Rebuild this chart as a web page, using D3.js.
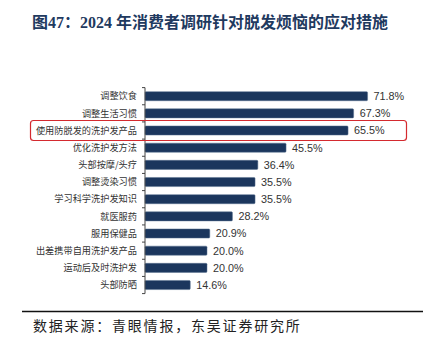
<!DOCTYPE html>
<html><head><meta charset="utf-8">
<script src="https://cdn.jsdelivr.net/npm/d3@7"></script>
<style>body{margin:0;background:#fff}svg{display:block}</style>
</head><body>
<script>
const categories = ["调整饮食","调整生活习惯","使用防脱发的洗护发产品","优化洗护发方法","头部按摩/头疗","调整烫染习惯","学习科学洗护发知识","就医服药","服用保健品","出差携带自用洗护发产品","运动后及时洗护发","头部防晒"];
const values = [71.8,67.3,65.5,45.5,36.4,35.5,35.5,28.2,20.9,20.0,20.0,14.6];
const highlighted = "使用防脱发的洗护发产品";
const titleText = "图47：2024 年消费者调研针对脱发烦恼的应对措施";
const sourceText = "数据来源：青眼情报，东吴证券研究所";

const W = 432, H = 344;
const svg = d3.select("body").append("svg").attr("width", W).attr("height", H);

svg.append("text").attr("x", 32).attr("y", 28)
  .attr("font-family", "'Liberation Serif','Noto Sans CJK SC',serif")
  .attr("font-weight", "bold").attr("font-size", 16).attr("fill", "#1f3a5f")
  .text(titleText);

const x = d3.scaleLinear().domain([0, 80]).range([145, 393]);
const y = d3.scaleBand().domain(categories).range([87.6, 293.6]).paddingInner(0.47).paddingOuter(0.235);

const g = svg.append("g");
g.selectAll("rect.bar").data(categories).join("rect").attr("class", "bar")
  .attr("x", x(0)).attr("y", d => y(d))
  .attr("width", (d, i) => x(values[i]) - x(0)).attr("height", y.bandwidth())
  .attr("rx", 1).attr("fill", "#1b365d").attr("stroke", "#5a7290").attr("stroke-width", 0.5);

g.selectAll("text.val").data(categories).join("text").attr("class", "val")
  .attr("x", (d, i) => x(values[i]) + 6).attr("y", d => y(d) + y.bandwidth() / 2)
  .attr("dy", "0.36em").attr("font-family", "Arial, 'Liberation Sans', sans-serif")
  .attr("font-size", 10.8).attr("fill", "#333")
  .text((d, i) => values[i].toFixed(1) + "%");

const ax = svg.append("g").attr("transform", `translate(${x(0)},0)`);
ax.append("line").attr("x1", 0).attr("x2", 0).attr("y1", 87.6).attr("y2", 293.6)
  .attr("stroke", "#444").attr("stroke-width", 1);
const step = y.step();
const bounds = d3.range(categories.length + 1).map(i => 87.6 + i * step);
ax.selectAll("line.tk").data(bounds).join("line").attr("class", "tk")
  .attr("x1", -3).attr("x2", 0).attr("y1", d => d).attr("y2", d => d)
  .attr("stroke", "#444").attr("stroke-width", 1);

svg.append("g").selectAll("text.cat").data(categories).join("text").attr("class", "cat")
  .attr("x", 137).attr("y", d => y(d) + y.bandwidth() / 2).attr("dy", "0.36em")
  .attr("text-anchor", "end").attr("font-family", "'Noto Sans CJK SC', sans-serif")
  .attr("font-size", 9.2).attr("fill", "#333").text(d => d);

const hy = y(highlighted) + y.bandwidth() / 2;
svg.append("rect").attr("x", 30.5).attr("y", hy - 10).attr("width", 376).attr("height", 20)
  .attr("rx", 3).attr("fill", "none").attr("stroke", "#d42a2f").attr("stroke-width", 1.2);

svg.append("line").attr("x1", 22).attr("x2", 423).attr("y1", 311.5).attr("y2", 311.5)
  .attr("stroke", "#111").attr("stroke-width", 1.5);
svg.append("text").attr("x", 33).attr("y", 331)
  .attr("font-family", "'Noto Sans CJK SC', serif").attr("font-size", 14).attr("fill", "#222")
  .attr("letter-spacing", 1.8)
  .text(sourceText);
</script>
</body></html>
